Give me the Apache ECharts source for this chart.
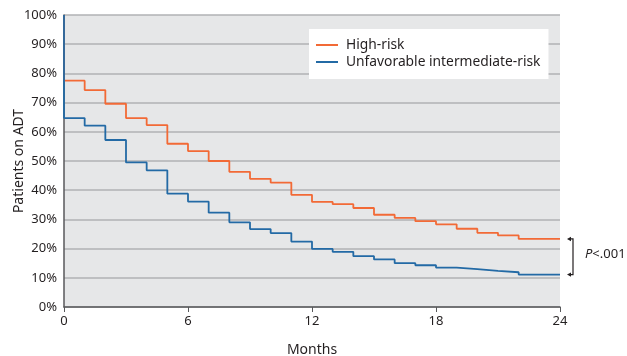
<!DOCTYPE html>
<html>
<head>
<meta charset="utf-8">
<script src="https://cdn.jsdelivr.net/npm/echarts@6/dist/echarts.min.js"></script>
<style>
html,body{margin:0;padding:0;background:#fff;}
#c{width:627px;height:356px;}
</style>
</head>
<body>
<div id="c"></div>
<script>
// Kaplan-Meier style step data: [month, % on ADT after that month]
var seriesNames = ['High-risk', 'Unfavorable intermediate-risk'];
var highRiskMonths = [0, 0, 1, 2, 3, 4, 5, 6, 7, 8, 9, 10, 11, 12, 13, 14, 15, 16, 17, 18, 19, 20, 21, 22, 24];
var highRiskValues = [100, 77.5, 74.3, 69.6, 64.7, 62.3, 55.9, 53.4, 50.0, 46.3, 43.9, 42.6, 38.4, 36.0, 35.2, 33.9, 31.6, 30.5, 29.4, 28.3, 26.8, 25.4, 24.5, 23.3, 23.3];
var unfavMonths = [0, 0, 1, 2, 3, 4, 5, 6, 7, 8, 9, 10, 11, 12, 13, 14, 15, 16, 17, 18, 19, 20, 21, 22, 24];
var unfavValues = [100, 64.7, 62.1, 57.2, 49.5, 46.8, 38.8, 36.1, 32.3, 29.0, 26.7, 25.3, 22.4, 19.9, 18.9, 17.4, 16.3, 15.0, 14.3, 13.5, 13.0, 12.4, 11.9, 11.1, 11.1];
var xTicks = [0, 6, 12, 18, 24];
var pText = '<.001';

function pairs(xs, ys) { return xs.map(function (x, i) { return [x, ys[i]]; }); }

var FONT = 'Noto Sans';
var chart = echarts.init(document.getElementById('c'), null, {renderer: 'canvas'});
var option = {
  animation: false,
  textStyle: {fontFamily: FONT},
  grid: {left: 64, right: 67, top: 15, bottom: 49, show: true, backgroundColor: '#e6e7e8', borderWidth: 0,
         containLabel: false, outerBoundsMode: 'none'},
  legend: {
    data: seriesNames,
    orient: 'vertical',
    left: 309, top: 29,
    backgroundColor: '#ffffff',
    padding: [9, 8, 10, 7],
    itemGap: 3,
    itemWidth: 22, itemHeight: 2,
    icon: 'rect',
    textStyle: {fontFamily: FONT, fontSize: 13.8, color: '#231f20', padding: [0, 0, 0, 3]}
  },
  xAxis: {
    type: 'value', min: 0, max: 24, interval: 6,
    name: 'Months', nameLocation: 'middle', nameGap: 36, nameMoveOverlap: false,
    nameTextStyle: {fontFamily: FONT, fontSize: 14, color: '#231f20'},
    axisLine: {show: true, lineStyle: {color: '#58595b', width: 1.5}},
    axisTick: {show: true, length: 5, lineStyle: {color: '#58595b', width: 1}},
    axisLabel: {fontFamily: FONT, fontSize: 13, color: '#231f20', margin: 8},
    splitLine: {show: false}
  },
  yAxis: {
    type: 'value', min: 0, max: 100, interval: 10,
    name: 'Patients on ADT', nameLocation: 'middle', nameGap: 38, nameRotate: 90, nameMoveOverlap: false,
    nameTextStyle: {fontFamily: FONT, fontSize: 14, color: '#231f20'},
    axisLine: {show: true, lineStyle: {color: '#58595b', width: 1.5}},
    axisTick: {show: false},
    axisLabel: {fontFamily: FONT, fontSize: 13, color: '#231f20', margin: 7, formatter: '{value}%'},
    splitLine: {show: true, lineStyle: {color: '#b1b2b4', width: 1.5}}
  },
  series: [
    {name: seriesNames[0], type: 'line', step: 'end', symbol: 'none', sampling: null,
     data: pairs(highRiskMonths, highRiskValues),
     itemStyle: {color: '#f26a36'},
     lineStyle: {color: '#f26a36', width: 1.8}, z: 3},
    {name: seriesNames[1], type: 'line', step: 'end', symbol: 'none', sampling: null,
     data: pairs(unfavMonths, unfavValues),
     itemStyle: {color: '#236aa5'},
     lineStyle: {color: '#236aa5', width: 1.8}, z: 4}
  ]
};
chart.setOption(option);

// P-value bracket at right, anchored to end values of each curve
var pTop = chart.convertToPixel({xAxisIndex: 0, yAxisIndex: 0}, [24, highRiskValues[highRiskValues.length - 1]]);
var pBot = chart.convertToPixel({xAxisIndex: 0, yAxisIndex: 0}, [24, unfavValues[unfavValues.length - 1]]);
var bx0 = pTop[0] + 7, bx1 = pTop[0] + 13;
var col = '#231f20';
chart.setOption({
  graphic: [
    {type: 'polyline', shape: {points: [[bx0 + 2, pTop[1]], [bx1, pTop[1]], [bx1, pBot[1]], [bx0 + 2, pBot[1]]]},
     style: {stroke: col, lineWidth: 1.2, fill: null}},
    {type: 'polygon', shape: {points: [[bx0, pTop[1]], [bx0 + 4, pTop[1] - 2.2], [bx0 + 4, pTop[1] + 2.2]]}, style: {fill: col}},
    {type: 'polygon', shape: {points: [[bx0, pBot[1]], [bx0 + 4, pBot[1] - 2.2], [bx0 + 4, pBot[1] + 2.2]]}, style: {fill: col}},
    {type: 'text', left: bx1 + 12, top: (pTop[1] + pBot[1]) / 2 - 9,
     style: {rich: {i: {fontStyle: 'italic', fontFamily: FONT, fontSize: 13, fill: col}, n: {fontFamily: FONT, fontSize: 13, fill: col}},
       text: '{i|P}{n|' + pText + '}'}}
  ]
});
</script>
</body>
</html>
